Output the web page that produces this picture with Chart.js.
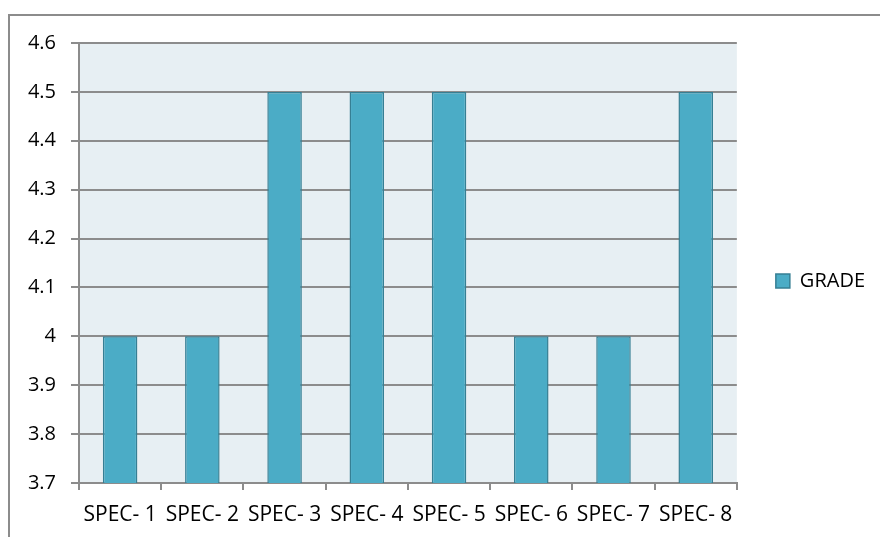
<!DOCTYPE html>
<html>
<head>
<meta charset="utf-8">
<script src="https://cdn.jsdelivr.net/npm/chart.js@4/dist/chart.umd.min.js"></script>
<style>
  html, body { margin: 0; padding: 0; overflow: hidden; background: #fff; }
  #frame {
    position: absolute; left: 8px; top: 14px; width: 900px; height: 560px;
    border-left: 2px solid #8c8c8c; border-top: 2px solid #8c8c8c;
  }
  #wrap { position: absolute; left: 0; top: 0; width: 880px; height: 537px; }
</style>
</head>
<body>
<div id="frame"></div>
<div id="wrap"><canvas id="myChart"></canvas></div>
<script>
// chart values
const categories = ["SPEC- 1", "SPEC- 2", "SPEC- 3", "SPEC- 4", "SPEC- 5", "SPEC- 6", "SPEC- 7", "SPEC- 8"];
const grades = [4, 4, 4.5, 4.5, 4.5, 4, 4, 4.5];
const seriesName = "GRADE";
const yTickLabels = ["3.7", "3.8", "3.9", "4", "4.1", "4.2", "4.3", "4.4", "4.5", "4.6"];

const gridColor = "#8c8c8c";
const font = "'Open Sans', 'Liberation Sans', sans-serif";

// light blue fill behind the plot
const plotBg = {
  id: "plotBg",
  beforeDraw(chart) {
    const a = chart.chartArea;
    const ctx = chart.ctx;
    ctx.save();
    ctx.fillStyle = "#e7eff3";
    ctx.fillRect(a.left, a.top, a.right - a.left, a.bottom - a.top);
    ctx.restore();
  },
};

let ctx = document.getElementById("myChart").getContext("2d");

let myChart = new Chart(ctx, {
  type: "bar",
  data: {
    labels: categories,
    datasets: [
      {
        label: seriesName,
        data: grades,
        backgroundColor: "#4bacc6",
        borderColor: "#367f94",
        borderWidth: 1.5,
        borderSkipped: "start",
        barPercentage: 0.42,
        categoryPercentage: 1,
      },
    ],
  },
  options: {
    responsive: true,
    maintainAspectRatio: false,
    animation: false,
    layout: { padding: { top: 25, right: 5, bottom: 0, left: 0 } },
    plugins: {
      tooltip: { enabled: false },
      legend: {
        position: "right",
        labels: {
          boxWidth: 14,
          boxHeight: 14,
          padding: 39,
          color: "#000",
          font: { family: font, size: 20 },
        },
      },
    },
    scales: {
      x: {
        grid: {
          drawOnChartArea: false,
          drawTicks: true,
          tickLength: 7,
          color: gridColor,
          lineWidth: 2,
        },
        border: { color: gridColor, width: 2 },
        ticks: {
          color: "#000",
          padding: 12,
          maxRotation: 0,
          autoSkip: false,
          font: { family: font, size: 21 },
        },
        afterFit: (scale) => {
          scale.height = 54;
        },
      },
      y: {
        min: 3.7,
        max: 4.6,
        grid: { color: gridColor, lineWidth: 2, tickLength: 8 },
        border: { color: gridColor, width: 2 },
        ticks: {
          stepSize: 0.1,
          color: "#000",
          padding: 15,
          font: { family: font, size: 20 },
          callback: (value, index) => yTickLabels[index],
        },
        afterFit: (scale) => {
          scale.width = 79;
          scale.paddingTop = 43;
        },
      },
    },
  },
  plugins: [plotBg],
});
</script>
</body>
</html>
